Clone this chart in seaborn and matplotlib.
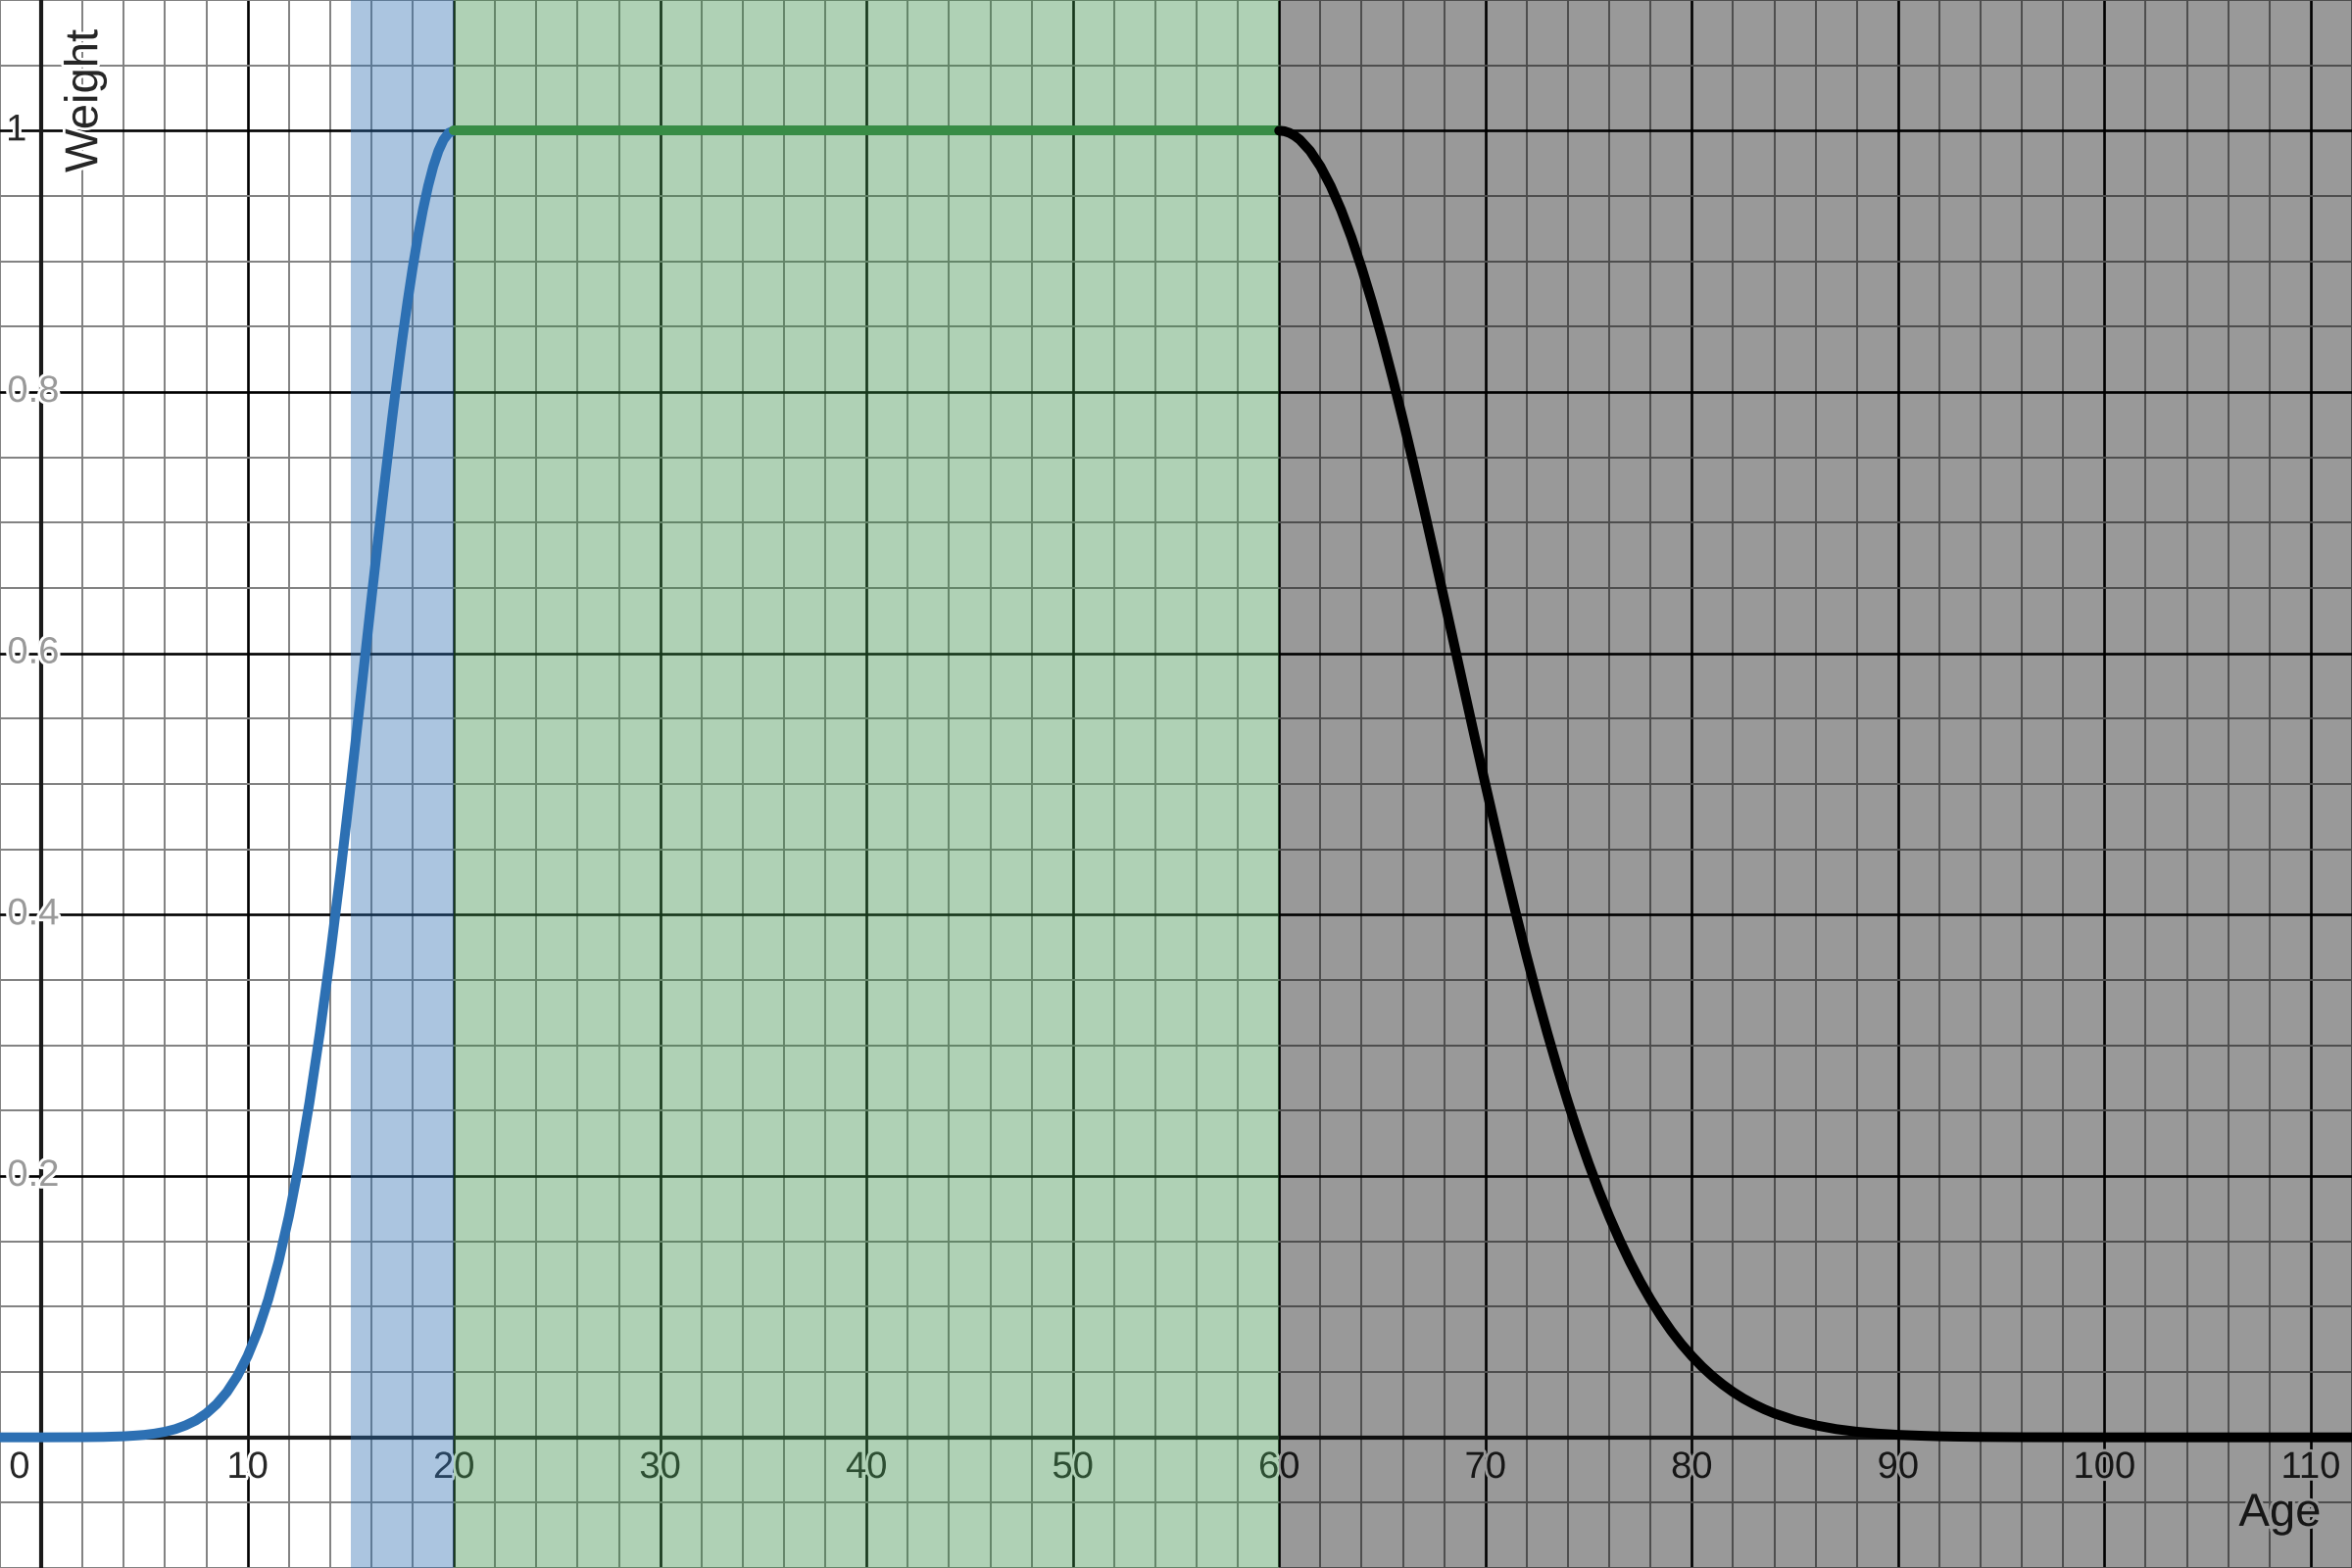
import matplotlib
matplotlib.use("Agg")
import matplotlib.pyplot as plt
import matplotlib.patheffects as pe
from matplotlib.ticker import MultipleLocator
import seaborn as sns
import pandas as pd

# growth curve (age -> weight)
rise_age = [-2, 0, 2, 3, 4, 4.5, 5, 5.5, 6, 6.5, 7, 7.5, 8, 8.5, 9, 9.5, 10,
            10.5, 11, 11.5, 12, 12.5, 13, 13.5, 14, 14.5, 15, 15.5, 16, 16.5,
            17, 17.25, 17.5, 17.75, 18, 18.25, 18.5, 18.75, 19, 19.25, 19.5,
            19.75, 20]
rise_weight = [0.0, 0.0, 0.0001, 0.0003, 0.0008, 0.0013, 0.0019, 0.0029,
               0.0043, 0.0063, 0.0092, 0.013, 0.0183, 0.0254, 0.0347, 0.0468,
               0.0622, 0.0815, 0.1054, 0.1344, 0.169, 0.2096, 0.2564, 0.3093,
               0.3679, 0.4316, 0.4994, 0.5698, 0.6412, 0.7116, 0.7788, 0.8105,
               0.8406, 0.8688, 0.8948, 0.9184, 0.9394, 0.9575, 0.9726, 0.9845,
               0.9931, 0.9983, 1.0]

# plateau
flat_age = [20, 60]
flat_weight = [1.0, 1.0]

# decline
fall_age = [60, 60.25, 60.5, 60.75, 61, 61.5, 62, 62.5, 63, 63.5, 64, 64.5,
            65, 65.5, 66, 66.5, 67, 67.5, 68, 68.5, 69, 69.5, 70, 70.5, 71,
            71.5, 72, 72.5, 73, 73.5, 74, 74.5, 75, 75.5, 76, 76.5, 77, 77.5,
            78, 78.5, 79, 79.5, 80, 80.5, 81, 81.5, 82, 82.5, 83, 83.5, 84,
            85, 86, 87, 88, 89, 90, 91, 92, 93, 94, 96, 100, 112]
fall_weight = [1.0, 0.9996, 0.9983, 0.9961, 0.9931, 0.9845, 0.9726, 0.9575,
               0.9394, 0.9184, 0.8948, 0.8688, 0.8406, 0.8105, 0.7788, 0.7457,
               0.7116, 0.6767, 0.6412, 0.6055, 0.5698, 0.5343, 0.4994, 0.4651,
               0.4316, 0.3992, 0.3679, 0.3379, 0.3093, 0.2821, 0.2564, 0.2322,
               0.2096, 0.1885, 0.169, 0.151, 0.1344, 0.1192, 0.1054, 0.0929,
               0.0815, 0.0713, 0.0622, 0.054, 0.0468, 0.0404, 0.0347, 0.0297,
               0.0254, 0.0216, 0.0183, 0.013, 0.0092, 0.0063, 0.0043, 0.0029,
               0.0019, 0.0013, 0.0008, 0.0005, 0.0003, 0.0001, 0.0, 0.0]

# shaded age bands
bands = [(15, 20, "#2d70b3"), (20, 60, "#388c46"), (60, 120, "#000000")]

x_ticks = [0, 10, 20, 30, 40, 50, 60, 70, 80, 90, 100, 110]
y_ticks = [0.2, 0.4, 0.6, 0.8]

sns.set_style("white")
plt.rcParams["font.family"] = ["Liberation Sans", "DejaVu Sans"]

fig = plt.figure(figsize=(24, 16), dpi=100)
ax = fig.add_axes([0, 0, 1, 1])

rise = pd.DataFrame({"age": rise_age, "weight": rise_weight})
flat = pd.DataFrame({"age": flat_age, "weight": flat_weight})
fall = pd.DataFrame({"age": fall_age, "weight": fall_weight})

# grid
ax.xaxis.set_major_locator(MultipleLocator(10))
ax.xaxis.set_minor_locator(MultipleLocator(2))
ax.yaxis.set_major_locator(MultipleLocator(0.2))
ax.yaxis.set_minor_locator(MultipleLocator(0.05))
ax.set_axisbelow(True)
ax.grid(which="minor", color="#808080", lw=1.4)
ax.grid(which="major", color="#000000", lw=1.9)
ax.tick_params(which="both", length=0, labelbottom=False, labelleft=False)
for s in ax.spines.values():
    s.set_visible(False)

ax.axvline(0, color="#1a1a1a", lw=3, zorder=0.7)
ax.axhline(0, color="#1a1a1a", lw=3, zorder=0.7)

halo = [pe.withStroke(linewidth=4, foreground="white")]
fs = 27.5
for t in x_ticks:
    if t == 0:
        ax.text(-0.55, -0.031, "0", ha="right", va="baseline", fontsize=fs,
                zorder=0.8, path_effects=halo)
    else:
        ax.text(t, -0.031, str(t), ha="center", va="baseline", fontsize=fs,
                zorder=0.8, path_effects=halo)
ax.text(-0.7, 0.9925, "1", ha="right", va="baseline", fontsize=fs,
        zorder=0.8, path_effects=halo)
for t in y_ticks:
    ax.text(-1.65, t - 0.0075, f"{t:g}", ha="left", va="baseline", fontsize=fs,
            color="#999999", zorder=0.8, path_effects=halo)

ax.text(110.5, -0.0677, "Age", ha="right", va="baseline", fontsize=34,
        zorder=0.8, path_effects=halo)
ax.text(1.1, 1.0775, "Weight", rotation=90, ha="left", va="top", fontsize=34,
        zorder=0.8, path_effects=halo)

for lo, hi, c in bands:
    ax.axvspan(lo, hi, color=c, alpha=0.4, lw=0, zorder=1)

line_kw = dict(lw=7.2, solid_capstyle="round", solid_joinstyle="round", zorder=3)
sns.lineplot(data=rise, x="age", y="weight", ax=ax, color="#2d70b3", **line_kw)
sns.lineplot(data=flat, x="age", y="weight", ax=ax, color="#388c46", **line_kw)
sns.lineplot(data=fall, x="age", y="weight", ax=ax, color="#000000", **line_kw)

ax.set_xlim(-2, 112)
ax.set_ylim(-0.1, 1.1)
ax.set_xlabel("")
ax.set_ylabel("")

fig.savefig("out.png", dpi=100)
